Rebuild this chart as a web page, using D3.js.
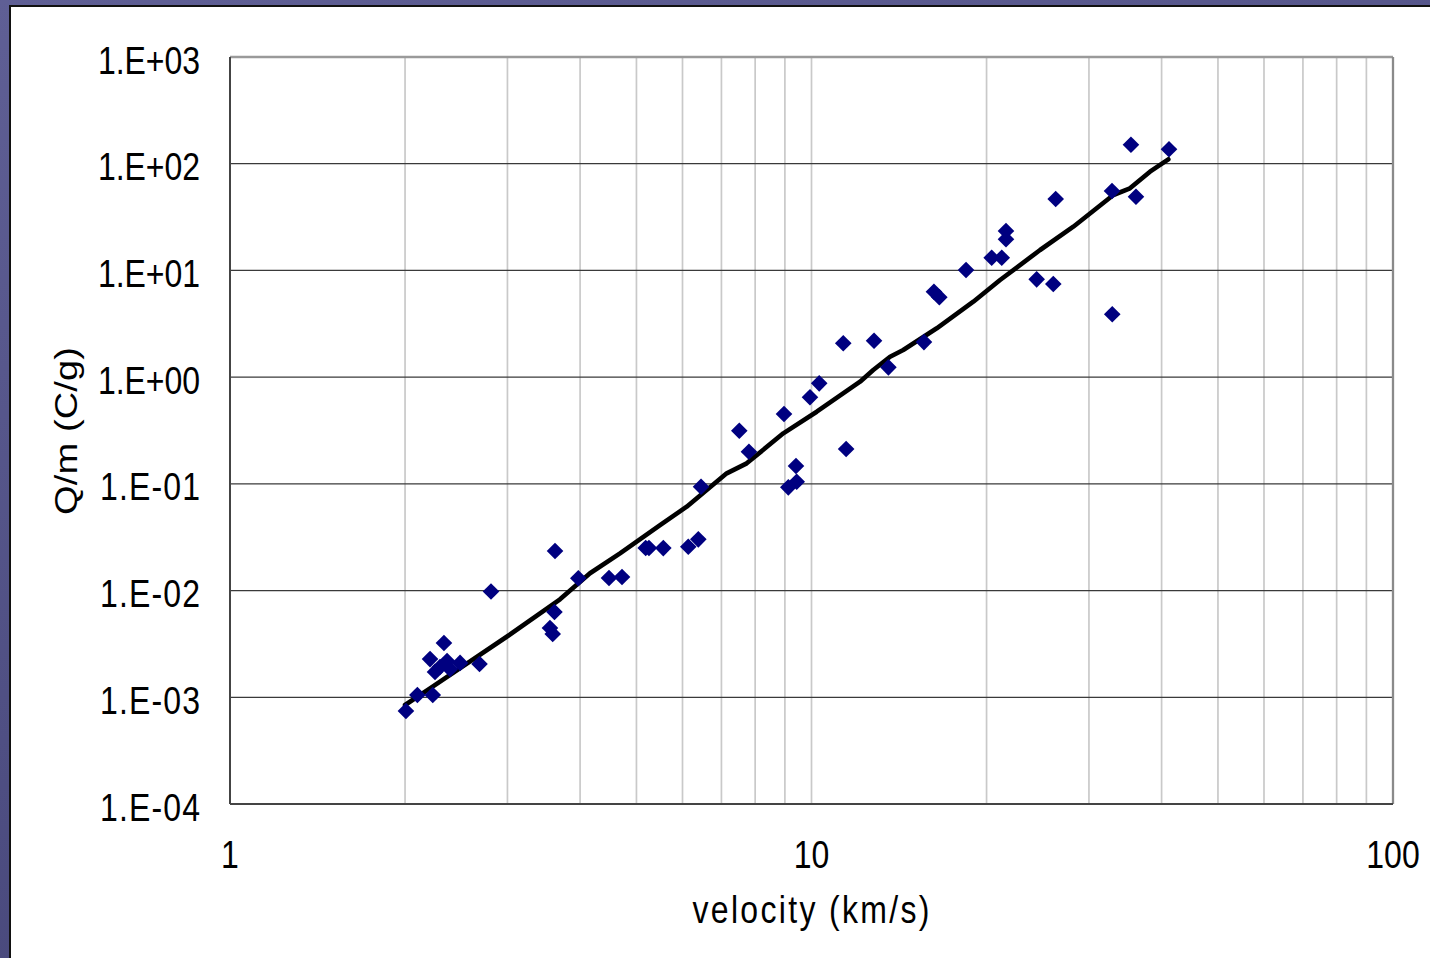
<!DOCTYPE html>
<html>
<head>
<meta charset="utf-8">
<script src="https://cdn.jsdelivr.net/npm/d3@7"></script>
<style>
  html, body { margin: 0; padding: 0; background: #ffffff; }
  svg { display: block; }
  text { font-family: "Liberation Sans", Arial, sans-serif; fill: #000; }
</style>
</head>
<body>
<svg id="chart" width="1430" height="958"></svg>
<script>
// Measured samples: velocity (km/s) and charge-to-mass ratio Q/m (C/g)
const velocity = [
  2.007, 2.100, 2.232, 2.208, 2.333, 2.252, 2.297, 2.362, 2.390, 2.487,
  2.686, 2.811, 3.622, 3.614, 3.550, 3.589, 3.972, 4.485, 4.722, 5.186,
  5.254, 5.561, 6.139, 6.388, 6.457, 7.513, 7.806, 8.968, 9.123, 9.431,
  9.404, 9.940, 10.31, 11.34, 11.47, 12.81, 13.56, 15.61, 16.24, 16.59,
  18.44, 20.41, 21.24, 21.60, 21.60, 24.39, 26.05, 26.30, 32.87, 32.90,
  35.43, 36.14, 41.19
];
const chargePerMass = [
  7.43e-4, 1.05e-3, 1.05e-3, 2.28e-3, 3.23e-3, 1.73e-3, 1.92e-3, 2.19e-3, 1.84e-3, 2.10e-3,
  2.05e-3, 9.8e-3, 0.0235, 6.30e-3, 4.46e-3, 3.92e-3, 0.01303, 0.01312, 0.0134, 0.02506,
  0.02506, 0.0250, 0.02576, 0.0302, 0.0940, 0.3148, 0.2000, 0.4515, 0.0928, 0.1047,
  0.1469, 0.6471, 0.8750, 2.075, 0.2119, 2.193, 1.236, 2.13, 6.32, 5.60,
  10.09, 13.15, 13.15, 23.41, 19.57, 8.25, 7.46, 46.70, 55.5, 3.88,
  150.7, 49.07, 136.5
];

// Vertices of the fitted trend line
const fitVelocity = [
  2.000, 2.208, 2.991, 3.694, 4.160, 4.685, 5.490, 6.101, 7.148, 7.737,
  8.944, 10.21, 12.12, 12.77, 13.65, 14.38, 16.42, 18.98, 21.10, 24.72,
  28.20, 33.04, 35.29, 38.20, 41.08
];
const fitChargePerMass = [
  8.46e-4, 1.213e-3, 3.69e-3, 8.28e-3, 0.01452, 0.02234, 0.04114, 0.06106, 0.1255, 0.1557,
  0.2976, 0.4742, 0.9062, 1.166, 1.554, 1.796, 2.869, 5.092, 8.133, 15.54,
  25.69, 50.91, 58.84, 84.17, 110.0
];

// Axis ticks and labels
const xMajorTicks = [1, 10, 100];
const xTickLabels = ["1", "10", "100"];
const xMinorTicks = [2, 3, 4, 5, 6, 7, 8, 9, 20, 30, 40, 50, 60, 70, 80, 90];
const yTicks = [1e-4, 1e-3, 1e-2, 1e-1, 1e0, 1e1, 1e2, 1e3];
const yTickLabels = ["1.E-04", "1.E-03", "1.E-02", "1.E-01", "1.E+00", "1.E+01", "1.E+02", "1.E+03"];
const xTitle = "velocity (km/s)";
const yTitle = "Q/m (C/g)";

const svg = d3.select("#chart");
const W = 1430, H = 958;
const plot = { left: 230, right: 1393, top: 57, bottom: 804 };
const textStretch = 1.19; // glyphs are drawn taller than wide

// Slide backdrop
const defs = svg.append("defs");
const grad = defs.append("linearGradient").attr("id", "slideBg")
  .attr("x1", 0).attr("y1", 0).attr("x2", 0.4).attr("y2", 1);
grad.append("stop").attr("offset", 0).attr("stop-color", "#5f5f95");
grad.append("stop").attr("offset", 1).attr("stop-color", "#47477a");
svg.append("rect").attr("width", W).attr("height", H).attr("fill", "url(#slideBg)");
svg.append("rect").attr("x", 10).attr("y", 6).attr("width", W).attr("height", H)
  .attr("fill", "#ffffff").attr("stroke", "#111").attr("stroke-width", 2);

const x = d3.scaleLog().domain([1, 100]).range([plot.left, plot.right]);
const y = d3.scaleLog().domain([1e-4, 1e3]).range([plot.bottom, plot.top]);

// Vertical gridlines (light)
svg.append("g").selectAll("line")
  .data(xMinorTicks.concat([10]))
  .join("line")
  .attr("x1", d => x(d)).attr("x2", d => x(d))
  .attr("y1", plot.top).attr("y2", plot.bottom)
  .attr("stroke", "#c9c9c9").attr("stroke-width", 1.7);

// Horizontal gridlines (dark)
svg.append("g").selectAll("line")
  .data(yTicks.slice(1, -1))
  .join("line")
  .attr("x1", plot.left).attr("x2", plot.right)
  .attr("y1", d => y(d)).attr("y2", d => y(d))
  .attr("stroke", "#3a3a3a").attr("stroke-width", 1.3);

// Plot frame
svg.append("line").attr("x1", plot.left).attr("x2", plot.right)
  .attr("y1", plot.top).attr("y2", plot.top)
  .attr("stroke", "#9a9a9a").attr("stroke-width", 2.3);
svg.append("line").attr("x1", plot.right).attr("x2", plot.right)
  .attr("y1", plot.top).attr("y2", plot.bottom)
  .attr("stroke", "#8a8a8a").attr("stroke-width", 2.3);
svg.append("line").attr("x1", plot.left).attr("x2", plot.left)
  .attr("y1", plot.top).attr("y2", plot.bottom)
  .attr("stroke", "#444").attr("stroke-width", 2);
svg.append("line").attr("x1", plot.left).attr("x2", plot.right)
  .attr("y1", plot.bottom).attr("y2", plot.bottom)
  .attr("stroke", "#444").attr("stroke-width", 2);

// Trend line
const line = d3.line().x(d => x(d[0])).y(d => y(d[1]));
svg.append("path")
  .datum(d3.zip(fitVelocity, fitChargePerMass))
  .attr("d", line)
  .attr("fill", "none").attr("stroke", "#000").attr("stroke-width", 4.6)
  .attr("stroke-linejoin", "round").attr("stroke-linecap", "round");

// Data markers: navy diamonds
const diamond = d3.symbol().type(d3.symbolSquare).size(138);
svg.append("g").selectAll("path")
  .data(d3.zip(velocity, chargePerMass))
  .join("path")
  .attr("d", diamond)
  .attr("transform", d => `translate(${x(d[0])},${y(d[1])}) rotate(45)`)
  .attr("fill", "#000080");

// Axis tick labels
const fontSize = 32;
svg.append("g").selectAll("g")
  .data(yTicks.map((v, i) => [v, yTickLabels[i]]))
  .join("g")
  .attr("transform", d => `translate(200,${y(d[0]) + 16.5}) scale(1,${textStretch})`)
  .append("text")
  .attr("text-anchor", "end")
  .attr("font-size", fontSize)
  .attr("textLength", d => d[0] < 1 ? 100 : 102)
  .attr("lengthAdjust", "spacing")
  .text(d => d[1]);

svg.append("g").selectAll("g")
  .data(xMajorTicks.map((v, i) => [v, xTickLabels[i]]))
  .join("g")
  .attr("transform", d => `translate(${x(d[0])},868) scale(1,${textStretch})`)
  .append("text")
  .attr("text-anchor", "middle")
  .attr("font-size", fontSize)
  .text(d => d[1]);

// Axis titles
svg.append("g")
  .attr("transform", `translate(811,923) scale(1,${textStretch})`)
  .append("text")
  .attr("text-anchor", "middle")
  .attr("font-size", fontSize)
  .attr("textLength", 237).attr("lengthAdjust", "spacing")
  .text(xTitle);

svg.append("g")
  .attr("transform", `translate(77,431) scale(1,${textStretch}) rotate(-90)`)
  .append("text")
  .attr("text-anchor", "middle")
  .attr("font-size", fontSize)
  .attr("textLength", 141).attr("lengthAdjust", "spacing")
  .text(yTitle);
</script>
</body>
</html>
